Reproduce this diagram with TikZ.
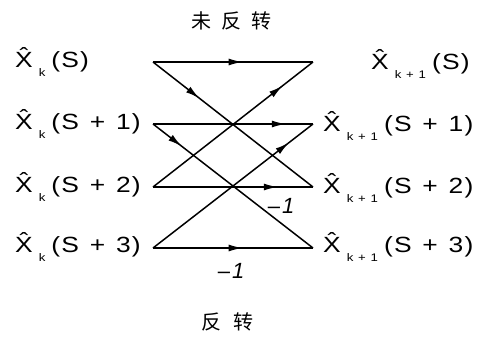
\documentclass[tikz,border=0pt]{standalone}
\usepackage{fontspec}
\usepackage{graphicx}
\setmainfont{Liberation Sans}
\newfontfamily\cjk{Noto Sans CJK SC}
\usetikzlibrary{decorations.markings,arrows.meta}
\newcommand{\xlab}[2]{\scalebox{1.2}[1]{\^{X}\hspace{5pt}\raisebox{-0.8ex}{\fontsize{11}{11}\selectfont #1}\hspace{5pt}(\hspace{1pt}#2\hspace{1pt})}}
\newcommand{\bigplus}{\hspace{9pt}+\hspace{9pt}}
\newcommand{\subplus}{\hspace{4pt}+\hspace{4pt}}
\tikzset{
  wire/.style={line width=1.5pt},
  marr/.style={postaction={decorate},decoration={markings,mark=at position #1 with {\arrow{Latex[length=14pt,width=7pt]}}}},
  lab/.style={font=\fontsize{22}{26}\selectfont, inner sep=0pt},
  cn/.style={font=\cjk\fontsize{20}{24}\selectfont, inner sep=0pt}
}
\begin{document}
\begin{tikzpicture}[x=1pt,y=-1pt]
\useasboundingbox (0,0) rectangle (488,339);
% endpoints
\coordinate (L0) at (153,62);
\coordinate (L1) at (153,124);
\coordinate (L2) at (153,187);
\coordinate (L3) at (153,248);
\coordinate (R0) at (313,62);
\coordinate (R1) at (313,124);
\coordinate (R2) at (313,187);
\coordinate (R3) at (313,248);
% wires
\draw[wire,marr=0.56] (L0) -- (R0);
\draw[wire,marr=0.29] (L0) -- (R2);
\draw[wire,marr=0.83] (L1) -- (R1);
\draw[wire,marr=0.18] (L1) -- (R3);
\draw[wire,marr=0.81] (L2) -- (R0);
\draw[wire,marr=0.78] (L2) -- (R2);
\draw[wire,marr=0.85] (L3) -- (R1);
\draw[wire,marr=0.56] (L3) -- (R3);
% labels
\node[lab,anchor=west] (a0) at (15,62) {\xlab{k}{S}};
\node[lab,anchor=west] (a1) at (15,124) {\xlab{k}{S\bigplus 1}};
\node[lab,anchor=west] (a2) at (15,187) {\xlab{k}{S\bigplus 2}};
\node[lab,anchor=west] (a3) at (15,247) {\xlab{k}{S\bigplus 3}};
\node[lab,anchor=west] (b0) at (371,64) {\xlab{k\subplus 1}{S}};
\node[lab,anchor=west] (b1) at (323,126) {\xlab{k\subplus 1}{S\bigplus 1}};
\node[lab,anchor=west] (b2) at (323,188) {\xlab{k\subplus 1}{S\bigplus 2}};
\node[lab,anchor=west] (b3) at (323,247) {\xlab{k\subplus 1}{S\bigplus 3}};
\node[lab] (m1) at (281,206) {\textendash\hspace{2pt}\textit{1}};
\node[lab] (m2) at (231,271) {\textendash\hspace{2pt}\textit{1}};
\node[cn] (t1) at (231,21) {未\hspace{10pt}反\hspace{10pt}转};
\node[cn] (t2) at (227,322) {反\hspace{12pt}转};
\end{tikzpicture}
\end{document}
